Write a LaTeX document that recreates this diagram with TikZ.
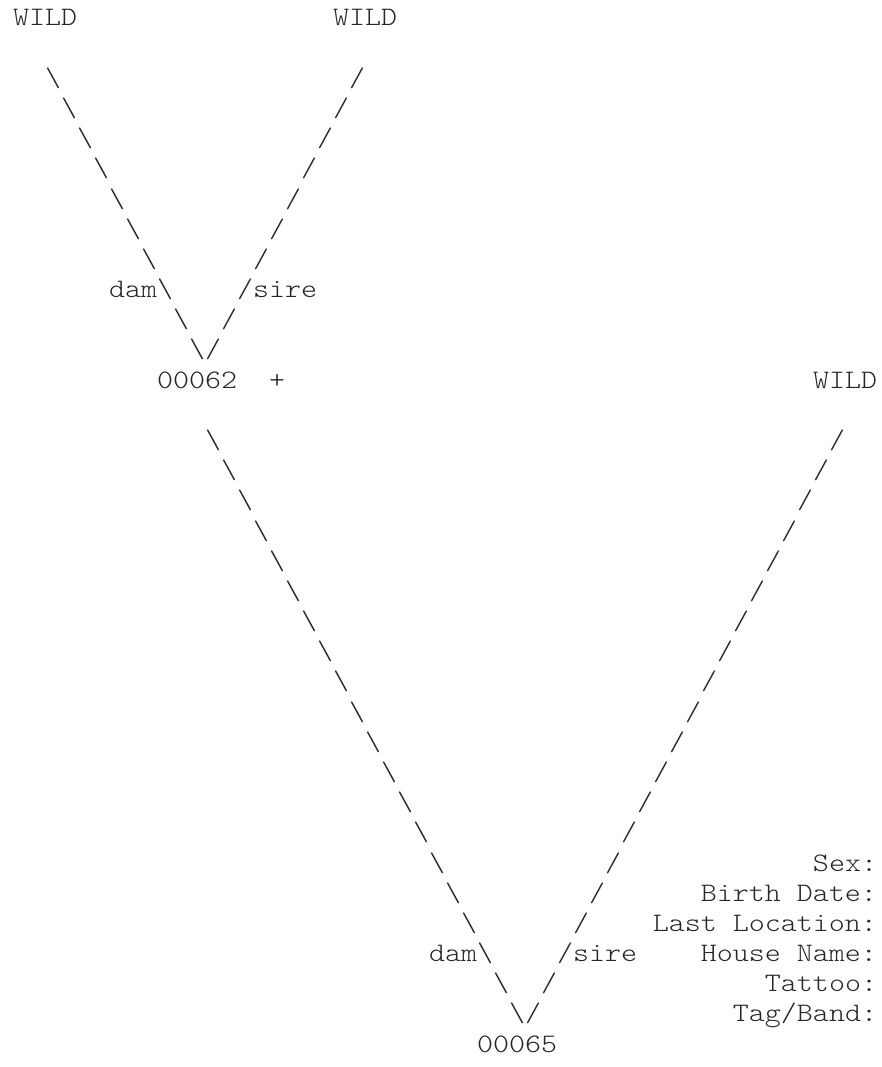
\documentclass[tikz,border=0pt]{standalone}
\usepackage{fontspec}
\newfontfamily\courfont{lmmonolt10-regular.otf}[FakeStretch=1.143]
\tikzset{
  asc/.style={anchor=base west, inner sep=0pt, outer sep=0pt,
    font=\courfont\fontsize{26.67pt}{30pt}\selectfont, text=black!85},
  lbl/.style={asc, anchor=base east}
}
\begin{document}
\begin{tikzpicture}
\useasboundingbox (0pt,0pt) rectangle (882pt,-1067pt);
\begin{scope}[shift={(13pt,-26pt)}, x=16pt, y=-30.18pt]
  % top pair
  \node[asc] (wA) at (0,0) {WILD};
  \node[asc] (wB) at (20,0) {WILD};
  \foreach \r in {2,...,11} {
    \node[asc] (tl\r) at (\r,\r) {\textbackslash};
    \node[asc] (tr\r) at ({23-\r},\r) {/};
  }
  \node[asc] (damA) at (6,9) {dam};
  \node[asc] (sireA) at (15,9) {sire};
  \node[asc] (n62) at (9,12) {00062};
  \node[asc] (plus) at (16,12) {+};
  \node[asc] (wC) at (50,12) {WILD};
  % bottom pair
  \foreach \r in {14,...,33} {
    \node[asc] (bl\r) at ({\r-2},\r) {\textbackslash};
    \node[asc] (br\r) at ({65-\r},\r) {/};
  }
  \node[asc] (damB) at (26,31) {dam};
  \node[asc] (sireB) at (35,31) {sire};
  \node[asc] (n65) at (29,34) {00065};
  % info labels
  \node[lbl] (sex) at (54,28) {Sex:};
  \node[lbl] (bdate) at (54,29) {Birth Date:};
  \node[lbl] (lloc) at (54,30) {Last Location:};
  \node[lbl] (hname) at (54,31) {House Name:};
  \node[lbl] (tattoo) at (54,32) {Tattoo:};
  \node[lbl] (tag) at (54,33) {Tag/Band:};
\end{scope}
\end{tikzpicture}
\end{document}
